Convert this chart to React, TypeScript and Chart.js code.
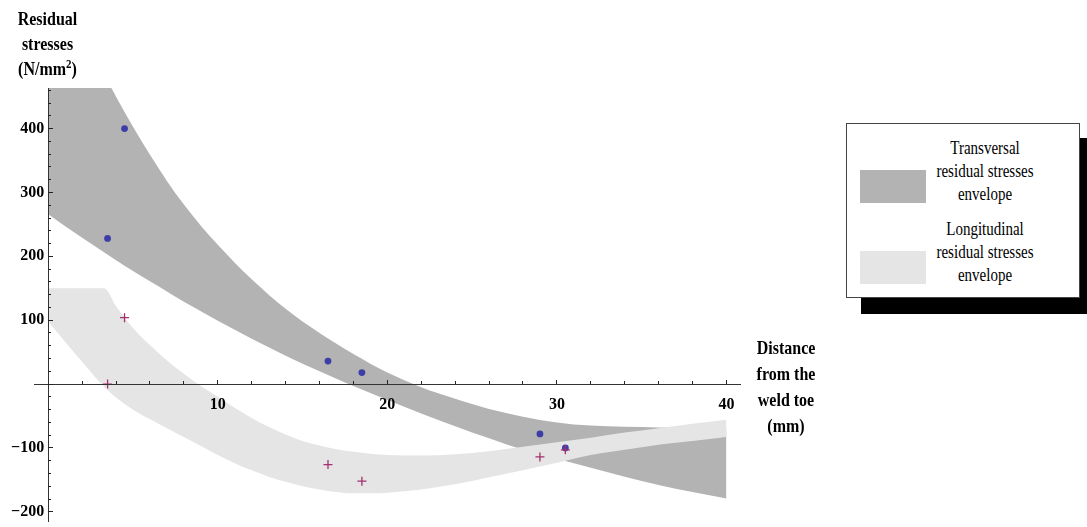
import React, { useEffect, useRef } from 'react';
import { Chart, registerables } from 'chart.js';

Chart.register(...registerables);

// Transversal residual stresses envelope (dark band)
const transX = [0, 2, 4, 5, 6, 7, 8, 9, 10, 11, 12, 13, 14, 15, 16, 17, 18, 19, 20, 22, 24, 26, 28, 30, 32, 34, 36, 38, 40];
const transUpper = [660, 552, 450, 403, 359, 318, 281, 248, 218, 190, 164, 140, 118, 98, 80, 63, 47, 32, 18, -5, -23, -39, -51, -60, -65, -67, -68, -69, -70];
const transLower = [266, 229, 194, 177, 161, 145, 129, 114, 99, 85, 71, 57.5, 44.5, 32, 20, 8.5, -3, -14, -25, -46, -66, -85, -103, -117, -131, -145, -158, -169, -179];

// Longitudinal residual stresses envelope (light band)
const longX = [0, 1, 2, 3, 3.3, 4, 5, 6, 7, 8, 9, 10, 11, 12, 13, 14, 15, 16, 17, 18, 19, 20, 22, 24, 26, 28, 30, 32, 34, 36, 38, 40];
const longUpper = [150, 150, 150, 150, 150, 122, 88, 61, 37, 16, -3, -20, -37, -53, -67, -79, -89, -96, -102, -106, -109, -111, -112, -110, -105, -98, -91, -84, -76, -69, -62, -56];
const longLower = [98, 66, 35, 4, -4, -21, -40, -55, -69, -83, -97, -111, -124, -135, -145, -153, -160, -165, -169, -171, -171, -170, -165, -157, -146, -135, -123, -111, -103, -95, -89, -83];

// Measurements
const measX = [3.5, 4.5, 16.5, 18.5, 29, 30.5];
const transMeas = [228, 400, 36, 18, -78, -100];
const longMeas = [0, 104, -126, -152, -114, -103];

// Tick labels
const xTickLabels = [10, 20, 30, 40];
const yTickLabels = [-200, -100, 100, 200, 300, 400];

const X_MIN = -0.84;
const X_MAX = 40.8;
const Y_MIN = -214.7;
const Y_MAX = 463.6;

const FONT = "'Liberation Serif', 'Times New Roman', serif";

const pts = (xs: number[], ys: number[]) => xs.map((x, i) => ({ x, y: ys[i] }));

const flatten = (s: any) => {
  if (s.isHorizontal()) s.height = 0;
  else s.width = 0;
  s.paddingLeft = 0;
  s.paddingRight = 0;
  s.paddingTop = 0;
  s.paddingBottom = 0;
};

const bandStyle = {
  borderWidth: 0,
  pointRadius: 0,
  borderColor: 'rgba(0,0,0,0)',
  cubicInterpolationMode: 'monotone' as const,
};

export default function App() {
  const ref = useRef<HTMLCanvasElement | null>(null);

  useEffect(() => {
    if (!ref.current) return;
    const tickFont = { family: FONT, size: 16, weight: 'bold' as const };
    const chart = new Chart(ref.current, {
      type: 'line',
      data: {
        datasets: [
          {
            label: 'Transversal upper',
            data: pts(transX, transUpper),
            ...bandStyle,
            fill: '+1',
            backgroundColor: '#b3b3b3',
            order: 5,
          },
          {
            label: 'Transversal lower',
            data: pts(transX, transLower),
            ...bandStyle,
            fill: false,
            order: 6,
          },
          {
            label: 'Longitudinal upper',
            data: pts(longX, longUpper),
            ...bandStyle,
            fill: '+1',
            backgroundColor: '#e5e5e5',
            order: 3,
          },
          {
            label: 'Longitudinal lower',
            data: pts(longX, longLower),
            ...bandStyle,
            fill: false,
            order: 4,
          },
          {
            label: 'Transversal measured',
            data: pts(measX, transMeas),
            showLine: false,
            pointStyle: 'circle',
            pointRadius: 3.4,
            pointBackgroundColor: '#3d3da8',
            pointBorderWidth: 0,
            order: 1,
          },
          {
            label: 'Longitudinal measured',
            data: pts(measX, longMeas),
            showLine: false,
            pointStyle: 'cross',
            pointRadius: 4.5,
            pointBorderColor: '#a3306f',
            pointBorderWidth: 1.3,
            order: 0,
          },
        ],
      },
      options: {
        responsive: false,
        animation: false,
        devicePixelRatio: 1,
        events: [],
        layout: { padding: { left: 34, right: 347, top: 88, bottom: 2 } },
        plugins: {
          legend: { display: false },
          tooltip: { enabled: false },
          title: { display: false },
        },
        scales: {
          x: {
            type: 'linear',
            axis: 'x',
            min: X_MIN,
            max: X_MAX,
            position: { y: 0 },
            afterFit: flatten,
            grid: { z: 1, drawOnChartArea: false, drawTicks: true, tickLength: -5, color: '#222', lineWidth: 1 },
            border: { z: 1, display: true, color: '#333', width: 1 },
            ticks: {
              z: 1,
              stepSize: 10,
              includeBounds: false,
              autoSkip: false,
              maxRotation: 0,
              padding: 16,
              color: '#000',
              font: tickFont,
              callback: (v: any) => (xTickLabels.includes(Number(v)) ? String(v) : ''),
            },
          },
          xm: {
            type: 'linear',
            axis: 'x',
            min: X_MIN,
            max: X_MAX,
            position: { y: 0 },
            afterFit: flatten,
            grid: { z: 1, drawOnChartArea: false, drawTicks: true, tickLength: -3, color: '#222', lineWidth: 1 },
            border: { display: false },
            ticks: { stepSize: 2, includeBounds: false, autoSkip: false, display: false },
          },
          y: {
            type: 'linear',
            axis: 'y',
            min: Y_MIN,
            max: Y_MAX,
            position: { x: 0 },
            afterFit: flatten,
            grid: { z: 1, drawOnChartArea: false, drawTicks: true, tickLength: -5, color: '#222', lineWidth: 1 },
            border: { z: 1, display: true, color: '#333', width: 1 },
            ticks: {
              z: 1,
              stepSize: 100,
              includeBounds: false,
              autoSkip: false,
              padding: 12,
              color: '#000',
              font: tickFont,
              callback: (v: any) => {
                const n = Number(v);
                if (!yTickLabels.includes(n)) return '';
                return (n < 0 ? '\u2212' + Math.abs(n) : String(n)) + ' ';
              },
            },
          },
          ym: {
            type: 'linear',
            axis: 'y',
            min: Y_MIN,
            max: Y_MAX,
            position: { x: 0 },
            afterFit: flatten,
            grid: { z: 1, drawOnChartArea: false, drawTicks: true, tickLength: -3, color: '#222', lineWidth: 1 },
            border: { display: false },
            ticks: { stepSize: 20, includeBounds: false, autoSkip: false, display: false },
          },
        },
      } as any,
    });
    return () => chart.destroy();
  }, []);

  const titleStyle: React.CSSProperties = {
    position: 'absolute',
    fontFamily: FONT,
    fontWeight: 'bold',
    fontSize: 16,
    lineHeight: '25px',
    textAlign: 'center',
    color: '#000',
    whiteSpace: 'nowrap',
  };
  const legendText: React.CSSProperties = {
    position: 'absolute',
    left: 925,
    width: 120,
    fontFamily: FONT,
    fontSize: 15,
    lineHeight: '23px',
    textAlign: 'center',
    color: '#000',
    whiteSpace: 'nowrap',
  };
  const tall: React.CSSProperties = { transform: 'scaleY(1.2)', transformOrigin: 'center' };

  return (
    <div style={{ position: 'absolute', left: 0, top: 0, width: 1087, height: 527, overflow: 'hidden', background: '#fff' }}>
      <canvas ref={ref} width={1087} height={527} style={{ display: 'block', position: 'absolute', left: 0, top: 0 }} />
      <div style={{ ...titleStyle, left: 0, top: 6, width: 95 }}>
        <div style={tall}>Residual</div>
        <div style={tall}>stresses</div>
        <div style={tall}>
          (N/mm<sup style={{ fontSize: 11, lineHeight: 0 }}>2</sup>)
        </div>
      </div>
      <div style={{ ...titleStyle, left: 740, top: 335, width: 92, lineHeight: '26px' }}>
        <div style={tall}>Distance</div>
        <div style={tall}>from the</div>
        <div style={tall}>weld toe</div>
        <div style={tall}>(mm)</div>
      </div>
      <div style={{ position: 'absolute', left: 861, top: 138, width: 240, height: 176, background: '#000' }} />
      <div style={{ position: 'absolute', left: 846, top: 123, width: 234, height: 175, boxSizing: 'border-box', border: '1px solid #444', background: '#fff' }} />
      <div style={{ position: 'absolute', left: 860, top: 170, width: 66, height: 33, background: '#b3b3b3' }} />
      <div style={{ position: 'absolute', left: 860, top: 251, width: 66, height: 33, background: '#e5e5e5' }} />
      <div style={{ ...legendText, top: 137 }}>
        <div style={tall}>Transversal</div>
        <div style={tall}>residual stresses</div>
        <div style={tall}>envelope</div>
      </div>
      <div style={{ ...legendText, top: 218 }}>
        <div style={tall}>Longitudinal</div>
        <div style={tall}>residual stresses</div>
        <div style={tall}>envelope</div>
      </div>
    </div>
  );
}
